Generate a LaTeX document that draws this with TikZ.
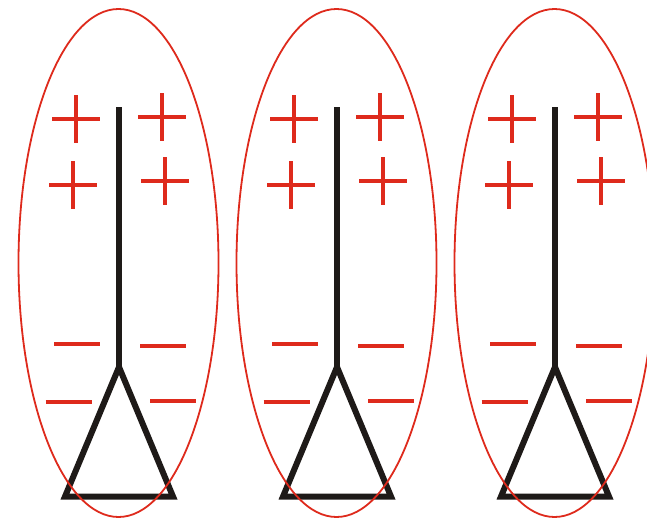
\documentclass[tikz,border=0pt]{standalone}
\usepackage{tikz}
\definecolor{chgR}{RGB}{222,42,28}
\definecolor{rodK}{RGB}{30,26,24}

\begin{document}
\begin{tikzpicture}[x=1pt,y=-1pt]
\useasboundingbox (0,0) rectangle (647,519);
\clip (0,0) rectangle (647,519);
% three charged electroscopes, shifted by 218 each
\foreach \dx in {0,218,436}{
\begin{scope}[shift={(\dx,0)}]
\draw[rodK,line width=6pt] (119,107)--(119,367);
\draw[rodK,line width=6pt,line join=miter] (119,367)--(65,496.5)--(173,496.5)--cycle;
% plus charges
\foreach \px/\py in {76/119,162/117,73/185,165/181}
  \draw[chgR,line width=4pt] (\px-24,\py)--(\px+24,\py) (\px,\py-24)--(\px,\py+24);
% minus charges
\foreach \mx/\my in {77/344,163/346,68.5/402,173/401}
  \draw[chgR,line width=4pt] (\mx-23,\my)--(\mx+23,\my);
\draw[chgR,line width=1.8pt] (118.5,263) ellipse (100 and 254);
\end{scope}
}
\end{tikzpicture}
\end{document}
